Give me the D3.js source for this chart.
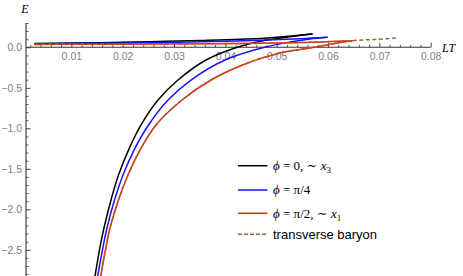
<!DOCTYPE html>
<html>
<head>
<meta charset="utf-8">
<script src="https://cdn.jsdelivr.net/npm/d3@7"></script>
<style>
  body { margin: 0; background: #fff; }
  svg { display: block; }
</style>
</head>
<body>
<script>

// energy curves, [LT, E] pairs
// lower branch goes from the bottom up to the cusp, upper branch from the cusp back left
blackLower = [[0.014083,-3.0],[0.014609,-2.823],[0.015486,-2.502],[0.016265,-2.256],[0.017726,-1.885],
  [0.019187,-1.577],[0.021135,-1.269],[0.023570,-0.959],[0.026881,-0.651],[0.030777,-0.404],
  [0.036231,-0.157],[0.042464,0.004],[0.047139,0.078],[0.051619,0.121],[0.056879,0.164]]
blackUpper = [[0.00292,0.047],[0.01558,0.056],[0.02532,0.069],[0.03506,0.084],[0.04675,0.109],[0.05064,0.127],[0.056879,0.164]]

blueLower = [[0.014609,-3.0],[0.015135,-2.823],[0.016070,-2.502],[0.016849,-2.256],[0.018408,-1.885],
  [0.020064,-1.577],[0.022206,-1.269],[0.025031,-0.959],[0.028829,-0.651],[0.033309,-0.404],
  [0.039932,-0.157],[0.047919,0.004],[0.052593,0.065],[0.056489,0.102],[0.059801,0.123]]
blueUpper = [[0.00292,0.043],[0.01558,0.049],[0.02532,0.057],[0.03506,0.068],[0.04675,0.088],[0.05454,0.105],[0.059801,0.123]]

redLower = [[0.015252,-3.0],[0.015720,-2.823],[0.016655,-2.502],[0.017434,-2.256],[0.019187,-1.885],
  [0.021037,-1.577],[0.023375,-1.269],[0.026491,-0.959],[0.031556,-0.651],[0.037205,-0.404],
  [0.043828,-0.206],[0.050645,-0.070],[0.056489,-0.009],[0.061359,0.047],[0.064670,0.081]]
redUpper = [[0.00292,0.036],[0.01558,0.038],[0.03506,0.043],[0.05064,0.053],[0.05844,0.065],[0.064670,0.081]]

// transverse baryon: runs on the red lower branch and keeps going past its cusp
baryonExtra = [[0.06915,0.0975],[0.07343,0.115]]

xTicks = [0.01,0.02,0.03,0.04,0.05,0.06,0.07,0.08]
yTicks = [0,-0.5,-1.0,-1.5,-2.0,-2.5]

legendItems = ["black","blue","red","baryon"]

width = 463
height = 276

colors = {black: "#000000", blue: "#1414ff", red: "#ff1a10", baryon: "#996633"}

x = d3.scaleLinear().domain([0, 0.08]).range([20, 430.7])
y = d3.scaleLinear().domain([0, -2.5]).range([47.3, 249.8])

var svg = d3.select("body").append("svg")
  .attr("width", width)
  .attr("height", height)
  .attr("viewBox", [0, 0, width, height])

// axes --------------------------------------------------
const xMinor = d3.range(0.002, 0.0801, 0.002).filter(v => Math.abs(v * 100 - Math.round(v * 100)) > 1e-6)
const yMinor = d3.range(0.3, -2.85, -0.1).filter(v => Math.abs(v * 2 - Math.round(v * 2)) > 1e-6)

const axisColor = "#333"

svg.append("g")
    .attr("transform", `translate(0,${y(0)})`)
    .call(d3.axisBottom(x).tickValues(xMinor).tickSize(-2.5).tickFormat(""))
    .call(g => g.select(".domain").remove())
    .call(g => g.selectAll(".tick line").attr("stroke", axisColor).attr("stroke-width", 0.8))

svg.append("g")
    .attr("transform", `translate(0,${y(0)})`)
    .call(d3.axisBottom(x).tickValues(xTicks).tickSize(-4.5).tickPadding(5).tickFormat(d3.format(".2f")))
    .call(g => g.select(".domain").remove())
    .call(g => g.selectAll(".tick line").attr("stroke", axisColor).attr("stroke-width", 0.9))
    .call(g => g.selectAll(".tick text")
        .attr("fill", "#808080")
        .attr("font-family", "Liberation Sans, Arial, sans-serif")
        .attr("font-size", 10.5))

svg.append("g")
    .attr("transform", `translate(26,0)`)
    .call(d3.axisLeft(y).tickValues(yMinor).tickSize(-2.5).tickFormat(""))
    .call(g => g.select(".domain").remove())
    .call(g => g.selectAll(".tick line").attr("stroke", axisColor).attr("stroke-width", 0.8))

svg.append("g")
    .attr("transform", `translate(26,0)`)
    .call(d3.axisLeft(y).tickValues(yTicks).tickSize(-4.5).tickPadding(4).tickFormat(d3.format(".1f")))
    .call(g => g.select(".domain").remove())
    .call(g => g.selectAll(".tick line").attr("stroke", axisColor).attr("stroke-width", 0.9))
    .call(g => g.selectAll(".tick text")
        .attr("fill", "#808080")
        .attr("font-family", "Liberation Sans, Arial, sans-serif")
        .attr("font-size", 10.5))

// axis lines
svg.append("line")
    .attr("x1", 26).attr("x2", x(0.08))
    .attr("y1", y(0)).attr("y2", y(0))
    .attr("stroke", axisColor).attr("stroke-width", 1.1)
svg.append("line")
    .attr("x1", 26).attr("x2", 26)
    .attr("y1", y(0.3)).attr("y2", height)
    .attr("stroke", axisColor).attr("stroke-width", 1.1)

// axis labels
svg.append("text")
    .attr("x", 25).attr("y", 13)
    .attr("text-anchor", "middle")
    .attr("font-family", "Liberation Serif, Times New Roman, serif")
    .attr("font-style", "italic")
    .attr("font-size", 12)
    .text("E")
svg.append("text")
    .attr("x", 442).attr("y", 51.5)
    .attr("font-family", "Liberation Serif, Times New Roman, serif")
    .attr("font-style", "italic")
    .attr("font-size", 12)
    .text("LT")

// curves ------------------------------------------------
svg.append("clipPath").attr("id", "plotclip")
  .append("rect").attr("x", 26).attr("y", 0).attr("width", width - 26).attr("height", height)

const line = d3.line()
    .x(d => x(d[0]))
    .y(d => y(d[1]))
    .curve(d3.curveCatmullRom.alpha(0.5))

const curves = svg.append("g").attr("clip-path", "url(#plotclip)")
  .attr("fill", "none")
  .attr("stroke-linejoin", "round")

function drawCurve(pts, color, dashed) {
  curves.append("path")
      .attr("d", line(pts))
      .attr("stroke", color)
      .attr("stroke-width", 1.5)
      .attr("stroke-dasharray", dashed ? "4,2.5" : null)
      .attr("stroke-linecap", dashed ? "butt" : "round")
}

drawCurve(blackLower, colors.black)
drawCurve(blackUpper, colors.black)
drawCurve(blueLower, colors.blue)
drawCurve(blueUpper, colors.blue)
drawCurve(redLower, colors.red)
drawCurve(redUpper, colors.red)
drawCurve(redLower.concat(baryonExtra), colors.baryon, true)
drawCurve(redUpper, colors.baryon, true)

// legend ------------------------------------------------
const legend = svg.append("g")
const rowY = [165.7, 190, 213.3, 234.3]

const rows = legend.selectAll("g")
  .data(legendItems)
  .join("g")
    .attr("transform", (d, i) => `translate(238, ${rowY[i]})`)

rows.append("line")
    .attr("x1", 0).attr("x2", 29.5)
    .attr("stroke", d => colors[d])
    .attr("stroke-width", 1.5)
    .attr("stroke-dasharray", d => d === "baryon" ? "4,2" : null)

const serif = "Liberation Serif, Times New Roman, DejaVu Serif, serif"
rows.each(function(d) {
  const t = d3.select(this).append("text")
      .attr("x", 35).attr("y", 4.3)
      .attr("font-size", 13)
      .attr("fill", "#000")
  if (d === "baryon") {
    t.attr("font-family", "Liberation Sans, Arial, sans-serif").text("transverse baryon")
    return
  }
  t.attr("font-family", serif)
  t.append("tspan").attr("font-style", "italic").text("ϕ")
  if (d === "black") {
    t.append("tspan").text(" = 0, ∼ ")
    t.append("tspan").attr("font-style", "italic").text("x")
    t.append("tspan").attr("font-size", 9).attr("dy", 3).text("3")
  } else if (d === "blue") {
    t.append("tspan").text(" = π/4")
  } else {
    t.append("tspan").text(" = π/2, ∼ ")
    t.append("tspan").attr("font-style", "italic").text("x")
    t.append("tspan").attr("font-size", 9).attr("dy", 3).text("1")
  }
})

</script>
</body>
</html>
